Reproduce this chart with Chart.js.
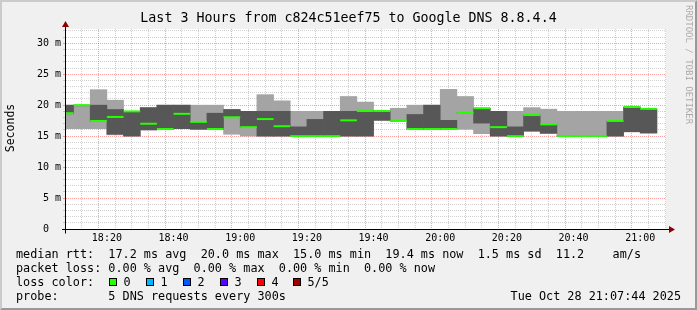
<!DOCTYPE html>
<html><head><meta charset="utf-8">
<script src="https://cdn.jsdelivr.net/npm/chart.js@4/dist/chart.umd.min.js"></script>
<style>html,body{margin:0;padding:0;background:#f0f0f0;}canvas{display:block;}</style>
</head><body>
<canvas id="c" width="697" height="310"></canvas>
<script>
// ---- data (5-minute steps, labelled by step start) ----
const stepTimes = ['18:05','18:10','18:15','18:20','18:25','18:30','18:35','18:40','18:45','18:50','18:55',
  '19:00','19:05','19:10','19:15','19:20','19:25','19:30','19:35','19:40','19:45','19:50','19:55',
  '20:00','20:05','20:10','20:15','20:20','20:25','20:30','20:35','20:40','20:45','20:50','20:55','21:00'];
const pingMin    = [16.2,16.2,16.2,15.2,15.0,16.0,16.1,16.2,16.1,16.1,15.3,15.0,15.0,15.0,15.0,15.0,15.0,15.0,15.0,17.55,17.45,16.1,16.1,16.1,16.1,15.4,15.0,15.0,15.8,15.45,15.0,15.0,15.0,15.0,15.7,15.5];
const ping2      = [18.6,19.9,17.4,15.3,15.0,16.0,16.1,16.2,16.1,16.1,18.0,16.4,15.0,15.0,15.0,15.0,15.0,15.0,15.0,17.55,17.45,16.1,16.1,16.1,18.75,17.1,15.0,15.0,15.8,15.45,15.0,15.0,15.0,15.0,15.7,15.5];
const pingMedian = [18.7,20.0,17.45,18.1,19.0,17.0,16.15,18.6,17.3,16.15,18.05,16.45,17.75,16.6,15.0,15.0,15.0,17.55,19.05,19.05,17.45,16.15,16.15,16.15,18.75,19.5,16.45,15.0,18.4,16.9,15.0,15.0,15.0,17.45,19.7,19.4];
const ping4      = [20.0,20.0,20.0,19.3,19.0,19.6,20.0,20.0,17.3,18.7,19.3,19.0,19.0,19.0,16.5,17.7,19.0,19.0,19.05,19.05,17.45,18.5,20.0,17.55,18.75,19.5,19.0,16.5,18.4,16.9,15.0,15.0,15.0,17.45,19.7,19.4];
const pingMax    = [20.0,20.0,22.5,20.8,19.0,19.6,20.0,20.0,20.0,20.0,19.3,19.0,21.7,20.7,19.0,19.0,19.0,21.4,20.5,19.05,19.5,20.0,20.0,22.55,21.4,19.5,19.0,19.0,19.6,19.35,19.0,19.0,19.0,19.0,19.7,19.4];
const yTickValues = [0,5,10,15,20,25,30];
const yTickLabels = ['0','5 m','10 m','15 m','20 m','25 m','30 m'];
const xTickLabels = ['18:20','18:40','19:00','19:20','19:40','20:00','20:20','20:40','21:00'];
const rangeStart = '18:07:44', rangeEnd = '21:07:44';

const titleText = 'Last 3 Hours from c824c51eef75 to Google DNS 8.8.4.4';
const legendLines = [
  'median rtt:  17.2 ms avg  20.0 ms max  15.0 ms min  19.4 ms now  1.5 ms sd  11.2    am/s',
  'packet loss: 0.00 % avg  0.00 % max  0.00 % min  0.00 % now',
  'loss color:',
  'probe:       5 DNS requests every 300s'
];
const lossLabels = ['0','1','2','3','4','5/5'];
const lossColors = ['#26ff00','#00b8ff','#0059ff','#5e00ff','#ff0000','#a10000'];
const dateText = 'Tue Oct 28 21:07:44 2025';

// ---- helpers ----
const toMin = s => { const p = s.split(':').map(Number); return p[0]*60 + p[1] + (p[2]||0)/60; };
const fmt = v => String(Math.floor(v/60)).padStart(2,'0') + ':' + String(Math.round(v%60)).padStart(2,'0');
const xMin = toMin(rangeStart), xMax = toMin(rangeEnd);
const STEP = 5;
const center = i => toMin(stepTimes[i]) + STEP/2;

const W = 697, H = 310;
const MONO = '"DejaVu Sans Mono", monospace';
const RED = 'rgba(255,0,0,0.38)', GREY = 'rgba(150,150,150,0.45)';

const decor = {
  id: 'decor',
  beforeDraw(chart) {
    const {ctx, chartArea: a} = chart;
    ctx.save();
    ctx.fillStyle = '#f0f0f0'; ctx.fillRect(0, 0, W, H);
    ctx.fillStyle = '#cbcbcb';
    ctx.beginPath(); ctx.moveTo(0,H); ctx.lineTo(2,H-2); ctx.lineTo(2,2); ctx.lineTo(W-2,2); ctx.lineTo(W,0); ctx.lineTo(0,0); ctx.closePath(); ctx.fill();
    ctx.fillStyle = '#999999';
    ctx.beginPath(); ctx.moveTo(2,H-2); ctx.lineTo(W-2,H-2); ctx.lineTo(W-2,2); ctx.lineTo(W,0); ctx.lineTo(W,H); ctx.lineTo(0,H); ctx.closePath(); ctx.fill();
    ctx.fillStyle = '#ffffff'; ctx.fillRect(a.left, a.top, a.right - a.left, a.bottom - a.top);
    ctx.restore();
  },
  afterDatasetsDraw(chart) {
    const {ctx, chartArea: a} = chart;
    const y0 = Math.round(chart.scales.y.getPixelForValue(0)) + 0.5;
    const xl = a.left - 0.5;
    ctx.save();
    ctx.strokeStyle = '#000'; ctx.lineWidth = 1;
    ctx.beginPath(); ctx.moveTo(a.left - 4, y0); ctx.lineTo(a.right + 4, y0); ctx.stroke();
    ctx.beginPath(); ctx.moveTo(xl, y0 + 4); ctx.lineTo(xl, a.top - 4); ctx.stroke();
    ctx.fillStyle = '#8b0000';
    ctx.beginPath(); ctx.moveTo(xl, a.top - 8); ctx.lineTo(xl - 3.5, a.top - 2); ctx.lineTo(xl + 3.5, a.top - 2); ctx.closePath(); ctx.fill();
    ctx.beginPath(); ctx.moveTo(a.right + 9, y0); ctx.lineTo(a.right + 3, y0 - 3.5); ctx.lineTo(a.right + 3, y0 + 3.5); ctx.closePath(); ctx.fill();
    ctx.restore();
  },
  afterDraw(chart) {
    const {ctx} = chart;
    ctx.save();
    ctx.fillStyle = '#000';
    ctx.textBaseline = 'middle';
    ctx.font = '13.3px ' + MONO; ctx.textAlign = 'center';
    ctx.fillText(titleText, W/2, 19);
    ctx.font = '11.8px ' + MONO; ctx.textAlign = 'left';
    const ys = [254.5, 268.5, 282.5, 296.5];
    legendLines.forEach((t, i) => ctx.fillText(t, 16, ys[i]));
    ctx.textAlign = 'right'; ctx.fillText(dateText, 681, ys[3]);
    ctx.textAlign = 'left';
    const bx = [109, 146, 183, 220, 257, 293];
    lossLabels.forEach((l, i) => {
      ctx.fillStyle = lossColors[i]; ctx.fillRect(bx[i], 278, 8, 8);
      ctx.strokeStyle = '#000'; ctx.lineWidth = 1; ctx.strokeRect(bx[i] + 0.5, 278.5, 7, 7);
      ctx.fillStyle = '#000'; ctx.fillText(l, bx[i] + 14.5, ys[2]);
    });
    ctx.save(); ctx.translate(11, 128); ctx.rotate(-Math.PI/2);
    ctx.font = '11.5px ' + MONO; ctx.textAlign = 'center'; ctx.fillText('Seconds', 0, 0); ctx.restore();
    ctx.save(); ctx.translate(693, 5); ctx.rotate(Math.PI/2);
    ctx.font = '9px ' + MONO; ctx.textAlign = 'left'; ctx.textBaseline = 'top';
    ctx.fillStyle = 'rgba(0,0,0,0.3)'; ctx.fillText('RRDTOOL / TOBI OETIKER', 0, 0); ctx.restore();
    ctx.restore();
  }
};

const barCommon = { barPercentage: 1, categoryPercentage: 1, grouped: false, borderWidth: 0, clip: 0 };

new Chart(document.getElementById('c'), {
  type: 'bar',
  data: {
    datasets: [
      Object.assign({ label: 'median', order: 0, backgroundColor: '#26ff00', inflateAmount: 0,
        data: pingMedian.map((m, i) => ({ x: center(i), y: [m - 0.16, m + 0.16] })) }, barCommon),
      Object.assign({ label: 'p2-p4', order: 1, backgroundColor: '#575757',
        data: ping2.map((v, i) => ({ x: center(i), y: [v, ping4[i]] })) }, barCommon),
      Object.assign({ label: 'min-max', order: 2, backgroundColor: '#a4a4a4',
        data: pingMin.map((v, i) => ({ x: center(i), y: [v, pingMax[i]] })) }, barCommon)
    ]
  },
  options: {
    responsive: false, animation: false, devicePixelRatio: 1, events: [],
    layout: { padding: { left: 0, top: 29, right: 31, bottom: 0 } },
    plugins: { legend: { display: false }, tooltip: { enabled: false }, title: { display: false } },
    scales: {
      x: {
        type: 'linear', min: xMin, max: xMax, offset: false,
        afterFit: s => { s.height = 81; },
        afterBuildTicks: s => {
          const t = []; for (let v = Math.ceil(xMin / STEP) * STEP; v <= xMax; v += STEP) t.push({ value: v });
          s.ticks = t;
        },
        grid: { drawTicks: false, lineWidth: 1,
          color: c => (c.tick && xTickLabels.includes(fmt(c.tick.value))) ? RED : GREY },
        border: { display: false, dash: [1, 1] },
        ticks: { autoSkip: false, maxRotation: 0, minRotation: 0, padding: 3, color: '#000',
          font: { family: MONO, size: 10 },
          callback: v => { const s = fmt(v); return xTickLabels.includes(s) ? s : ''; } }
      },
      y: {
        min: 0, max: 32.3,
        afterFit: s => { s.width = 66; },
        afterBuildTicks: s => { const t = []; for (let v = 0; v <= 32; v++) t.push({ value: v }); s.ticks = t; },
        grid: { drawTicks: true, tickLength: 3, lineWidth: 1,
          color: c => (c.tick && yTickValues.includes(c.tick.value)) ? RED : GREY },
        border: { display: false, dash: [1, 1] },
        ticks: { autoSkip: false, padding: 2, color: '#000', font: { family: MONO, size: 10 },
          callback: v => { const i = yTickValues.indexOf(v); return i < 0 ? '' : (v === 0 ? yTickLabels[i] + '  ' : yTickLabels[i]); } }
      }
    }
  },
  plugins: [decor]
});
</script>
</body></html>
